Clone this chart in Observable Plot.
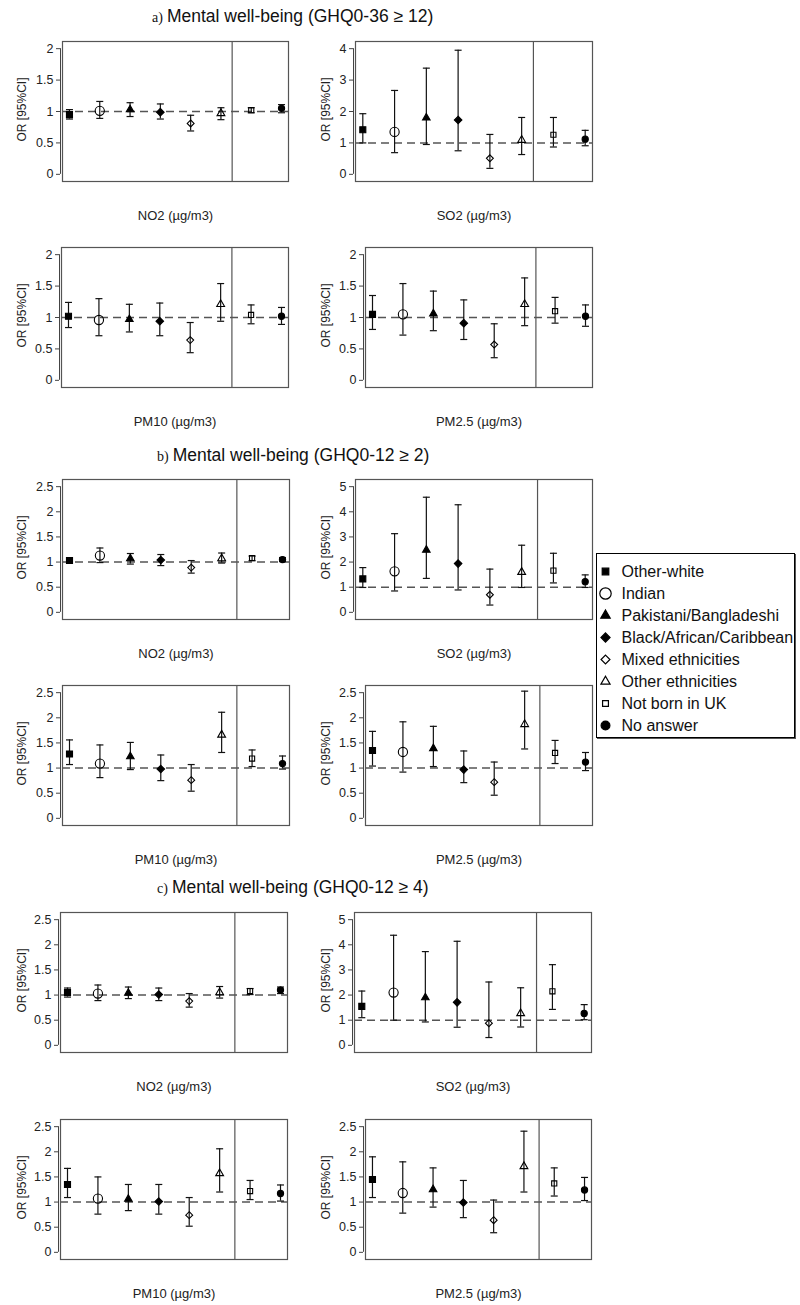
<!DOCTYPE html>
<html><head><meta charset="utf-8">
<script src="https://cdn.jsdelivr.net/npm/d3@7"></script>
<script src="https://cdn.jsdelivr.net/npm/@observablehq/plot@0.6"></script>
<style>
body{margin:0;background:#fff;}
#page{position:relative;width:800px;height:1305px;overflow:hidden;background:#fff;font-family:"Liberation Sans",Arial,sans-serif;}
.title{position:absolute;font-size:17.5px;color:#111;white-space:nowrap;line-height:1;}
.title .tag{font-family:"Liberation Serif","Times New Roman",serif;font-size:14px;margin-right:4px;}
.panel{position:absolute;}
#legend{position:absolute;border:1.5px solid #000;box-shadow:1px 1px 0 #555;background:#fff;}
</style></head>
<body><div id="page"></div>
<script>
// ---------- categories & labels ----------
const ethnicities = ["Other-white","Indian","Pakistani/Bangladeshi","Black/African/Caribbean","Mixed ethnicities","Other ethnicities","Not born in UK","No answer"];
const sectionTags = ["a)","b)","c)"];
const sectionTitles = ["Mental well-being (GHQ0-36 \u2265 12)","Mental well-being (GHQ0-12 \u2265 2)","Mental well-being (GHQ0-12 \u2265 4)"];
const pollutants = ["NO2 (\u00b5g/m3)","SO2 (\u00b5g/m3)","PM10 (\u00b5g/m3)","PM2.5 (\u00b5g/m3)"];
const yLabel = "OR [95%CI]";
// tick label sets
const ticks2 = [0,0.5,1,1.5,2];
const ticks25 = [0,0.5,1,1.5,2,2.5];
const ticks4 = [0,1,2,3,4];
const ticks5 = [0,1,2,3,4,5];

// ---------- values: [OR, lower 95%CI, upper 95%CI] per ethnicity ----------
const a_NO2  = [[0.95,0.88,1.03],[1.01,0.89,1.16],[1.03,0.92,1.14],[0.99,0.88,1.12],[0.81,0.69,0.94],[0.97,0.87,1.06],[1.02,0.98,1.06],[1.05,0.98,1.11]];
const a_SO2  = [[1.42,1.00,1.93],[1.35,0.69,2.67],[1.80,0.95,3.38],[1.73,0.75,3.95],[0.51,0.19,1.27],[1.09,0.63,1.81],[1.26,0.87,1.81],[1.12,0.91,1.40]];
const a_PM10 = [[1.02,0.84,1.24],[0.96,0.71,1.30],[0.97,0.77,1.21],[0.94,0.71,1.23],[0.64,0.44,0.92],[1.21,0.94,1.54],[1.04,0.90,1.20],[1.02,0.89,1.16]];
const a_PM25 = [[1.05,0.81,1.35],[1.05,0.72,1.54],[1.06,0.79,1.42],[0.91,0.65,1.28],[0.57,0.36,0.90],[1.21,0.87,1.63],[1.10,0.91,1.32],[1.02,0.86,1.20]];
const b_NO2  = [[1.03,0.98,1.08],[1.13,0.99,1.28],[1.07,0.96,1.17],[1.04,0.93,1.15],[0.89,0.78,1.03],[1.07,0.98,1.18],[1.08,1.03,1.12],[1.05,1.01,1.09]];
const b_SO2  = [[1.33,0.99,1.78],[1.63,0.85,3.13],[2.48,1.35,4.58],[1.94,0.89,4.28],[0.70,0.29,1.72],[1.60,0.99,2.67],[1.66,1.17,2.35],[1.22,0.99,1.49]];
const b_PM10 = [[1.28,1.07,1.56],[1.09,0.81,1.46],[1.23,0.97,1.51],[0.98,0.75,1.26],[0.76,0.54,1.07],[1.66,1.31,2.11],[1.19,1.03,1.36],[1.09,0.98,1.24]];
const b_PM25 = [[1.35,1.04,1.73],[1.32,0.92,1.92],[1.39,1.03,1.83],[0.97,0.71,1.34],[0.72,0.46,1.12],[1.87,1.38,2.53],[1.30,1.09,1.55],[1.12,0.95,1.31]];
const c_NO2  = [[1.05,0.96,1.14],[1.03,0.89,1.20],[1.04,0.93,1.16],[1.01,0.89,1.14],[0.88,0.76,1.03],[1.05,0.94,1.17],[1.08,1.01,1.13],[1.10,1.03,1.16]];
const c_SO2  = [[1.55,1.10,2.16],[2.10,1.00,4.38],[1.90,0.93,3.73],[1.71,0.72,4.14],[0.88,0.31,2.52],[1.27,0.73,2.29],[2.15,1.43,3.21],[1.27,1.02,1.62]];
const c_PM10 = [[1.35,1.09,1.67],[1.07,0.76,1.50],[1.06,0.83,1.35],[1.01,0.76,1.35],[0.74,0.52,1.09],[1.57,1.20,2.06],[1.22,1.05,1.43],[1.17,1.02,1.34]];
const c_PM25 = [[1.45,1.09,1.90],[1.18,0.78,1.80],[1.25,0.90,1.68],[0.99,0.69,1.43],[0.64,0.39,1.04],[1.71,1.20,2.41],[1.37,1.12,1.68],[1.24,1.03,1.49]];

const panelData  = [[a_NO2,a_SO2,a_PM10,a_PM25],[b_NO2,b_SO2,b_PM10,b_PM25],[c_NO2,c_SO2,c_PM10,c_PM25]];
const panelTicks = [[ticks2,ticks4,ticks2,ticks2],[ticks25,ticks5,ticks25,ticks25],[ticks25,ticks5,ticks25,ticks25]];

// ---------- styles ----------
const symbols = ["square","circle","triangle","diamond2","diamond2","triangle","square","circle"];
const filled  = [true,false,true,true,false,false,false,true];
const sizes   = [3.4,4.6,2.8,3.4,3.1,2.9,2.9,3.1];
const legendSizes = [3.7,5.7,3.5,4.1,4.0,3.4,3.3,4.4];

// ---------- layout (page px): frame [left,right,top,bottom] ----------
const frames = [
  [[62,288,41,181],[355,592,41,181],[61,288,247,387],[365,592,247,387]],
  [[62,289,479,619],[355,592,479,619],[62,289,685,825],[365,592,685,825]],
  [[60,287,912,1052],[354,591,912,1052],[60,287,1119,1259],[365,591,1119,1259]]
];
const titlePos = [[152,8],[157,447],[157,879]];
const sepX = [6.37,6.5,6.5];
const xDomain = [0.77,8.23];

const cap = {draw(ctx){ ctx.moveTo(-3.5,0); ctx.lineTo(3.5,0); }};
const page = document.getElementById("page");
const font = {fontFamily:"'Liberation Sans', Arial, sans-serif", fontSize:"12px", color:"#222", background:"transparent", overflow:"visible"};

function makePanel(values, ticks, frame, sep, xlab, col) {
  const [L,R,T,B] = frame;
  const ox = col === 0 ? 0 : 300, W = col === 0 ? 300 : 295;
  const top = T - 10, H = (B - T) + 10 + 52;
  const max = ticks[ticks.length - 1], e = 0.057 * max;
  const rows = values.map((d,i) => ({x:i+1, k:i, or:d[0], lo:d[1], hi:d[2]}));
  const ylabX = col === 0 ? 22 : 326;
  const chart = Plot.plot({
    width: W, height: H,
    marginLeft: L - ox, marginRight: ox + W - R, marginTop: 10, marginBottom: 52,
    style: font,
    x: {domain: xDomain, axis: null},
    y: {domain: [-e, max + e]},
    marks: [
      Plot.frame({stroke:"#555", strokeWidth:1.2}),
      Plot.ruleX([sep], {stroke:"#555", strokeWidth:1.2}),
      Plot.ruleY([1], {stroke:"#555", strokeDasharray:"8,5", strokeWidth:1.5}),
      Plot.ruleX(rows, {x:"x", y1:"lo", y2:"hi", stroke:"#111", strokeWidth:1.2}),
      Plot.dot(rows, {x:"x", y:"lo", symbol:cap, fill:"none", stroke:"#111", strokeWidth:1.2}),
      Plot.dot(rows, {x:"x", y:"hi", symbol:cap, fill:"none", stroke:"#111", strokeWidth:1.2}),
      ...ethnicities.map((name,k) => Plot.dot(rows.filter(r => r.k === k), {
        x:"x", y:"or", symbol:symbols[k], r:sizes[k],
        fill: filled[k] ? "#000" : "none", stroke:"#000", strokeWidth:1.1
      })),
      Plot.axisY({ticks, tickFormat:d => String(d), tickSize:4, tickPadding:3, dx:-2, stroke:"#444", fill:"#222", fontSize:12.5, label:null}),
      Plot.ruleX([xDomain[0]], {y1:ticks[0], y2:max, dx:-2, stroke:"#444"}),
      Plot.text([xlab], {frameAnchor:"bottom", lineAnchor:"middle", textAnchor:"middle", dy:34, fontSize:13, fill:"#222"}),
      Plot.text([yLabel], {frameAnchor:"left", textAnchor:"middle", lineAnchor:"middle", rotate:-90, dx: ylabX - L, dy:-2, fontSize:12, fill:"#222"})
    ]
  });
  chart.classList.add("panel");
  chart.style.left = ox + "px";
  chart.style.top = top + "px";
  page.appendChild(chart);
}

sectionTags.forEach((tag, s) => {
  const t = document.createElement("div");
  t.className = "title";
  t.style.left = titlePos[s][0] + "px";
  t.style.top = titlePos[s][1] + "px";
  const sp = document.createElement("span");
  sp.className = "tag"; sp.textContent = tag;
  t.appendChild(sp);
  t.appendChild(document.createTextNode(sectionTitles[s]));
  page.appendChild(t);
  pollutants.forEach((p, j) => {
    makePanel(panelData[s][j], panelTicks[s][j], frames[s][j], sepX[s], p, j % 2);
  });
});

// ---------- legend ----------
const leg = document.createElement("div");
leg.id = "legend";
leg.style.left = "596px"; leg.style.top = "553px";
leg.style.width = "197px"; leg.style.height = "183px";
const legPlot = Plot.plot({
  width:197, height:183, marginLeft:0, marginRight:0, marginTop:15.5, marginBottom:11.5,
  style: Object.assign({}, font, {fontSize:"16px"}),
  x: {axis:null},
  y: {type:"point", domain:ethnicities, padding:0, axis:null},
  marks: [
    ...ethnicities.map((name,k) => Plot.dot([name], {
      y: d => d, frameAnchor:"left", dx:8, symbol:symbols[k], r:legendSizes[k],
      fill: filled[k] ? "#000" : "none", stroke:"#000", strokeWidth:1.2
    })),
    Plot.text(ethnicities, {y: d => d, text: d => d, frameAnchor:"left", dx:24, textAnchor:"start", lineAnchor:"middle", fontSize:16, fill:"#111"})
  ]
});
leg.appendChild(legPlot);
page.appendChild(leg);
</script>
</body></html>
